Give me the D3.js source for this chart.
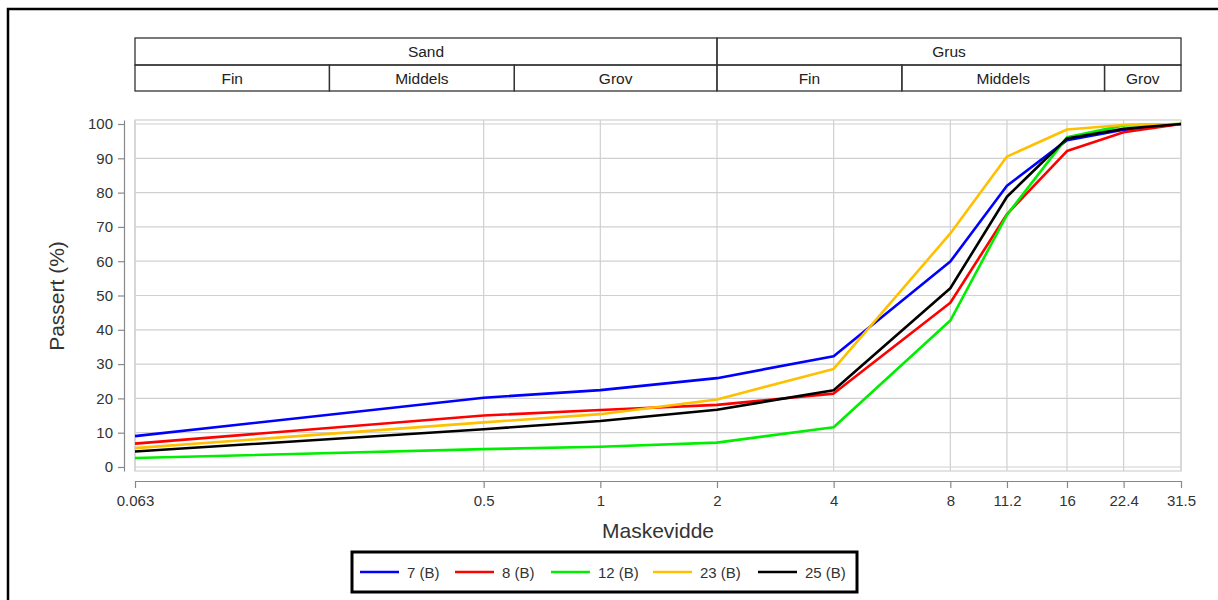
<!DOCTYPE html>
<html>
<head>
<meta charset="utf-8">
<script src="https://cdn.jsdelivr.net/npm/d3@7"></script>
<style>
  body { margin: 0; background: #fff; }
  svg { font-family: 'Liberation Sans', Arial, sans-serif; }
</style>
</head>
<body>
<script>
const width = 1218
const height = 600

// Sikter (mm)
const sikter = [0.063, 0.5, 1, 2, 4, 8, 11.2, 16, 22.4, 31.5]

// Passert (%) per prøve
const navn = ['7 (B)', '8 (B)', '12 (B)', '23 (B)', '25 (B)']
const p7  = [9.0, 20.2, 22.4, 25.9, 32.3, 59.9, 82.0, 95.3, 98.3, 100]
const p8  = [6.8, 15.0, 16.6, 18.1, 21.4, 47.9, 73.7, 92.1, 97.6, 100]
const p12 = [2.6, 5.2, 5.9, 7.1, 11.6, 42.7, 73.5, 96.1, 99.6, 100]
const p23 = [5.5, 13.0, 15.4, 19.7, 28.6, 68.1, 90.5, 98.4, 99.7, 100]
const p25 = [4.5, 11.0, 13.4, 16.7, 22.4, 52.1, 78.8, 95.8, 98.6, 100]
const farger = ['#0000ff', '#ff0000', '#00ee00', '#ffc000', '#000000']

// Kornfraksjoner (topptabell)
const hoved = [['Sand', 0.063, 2], ['Grus', 2, 31.5]]
const under = [['Fin', 0.063, 0.2], ['Middels', 0.2, 0.6], ['Grov', 0.6, 2],
               ['Fin', 2, 6], ['Middels', 6, 20], ['Grov', 20, 31.5]]

const serier = [p7, p8, p12, p23, p25].map((v, i) => ({
  navn: navn[i], farge: farger[i],
  punkter: sikter.map((s, j) => ({ s, p: v[j] }))
}))

const x = d3.scaleLog().domain([0.063, 31.5]).range([135, 1181])
const y = d3.scaleLinear().domain([-1.17, 101.17]).range([471, 120])

const svg = d3.select('body').append('svg').attr('width', width).attr('height', height)

// ytre ramme
svg.append('rect')
  .attr('x', 8).attr('y', 9).attr('width', 1300).attr('height', 700)
  .attr('fill', 'none').attr('stroke', '#000').attr('stroke-width', 2.5)

// topptabell
const tab = svg.append('g')
tab.selectAll('rect.h').data(hoved).join('rect')
  .attr('class', 'h')
  .attr('x', d => x(d[1])).attr('y', 38)
  .attr('width', d => x(d[2]) - x(d[1])).attr('height', 27)
  .attr('fill', 'none').attr('stroke', '#333').attr('stroke-width', 1.3)
tab.selectAll('text.h').data(hoved).join('text')
  .attr('class', 'h')
  .attr('x', d => (x(d[1]) + x(d[2])) / 2).attr('y', 57)
  .attr('text-anchor', 'middle').attr('font-size', 15.5).attr('fill', '#222')
  .text(d => d[0])
tab.selectAll('rect.u').data(under).join('rect')
  .attr('class', 'u')
  .attr('x', d => x(d[1])).attr('y', 65)
  .attr('width', d => x(d[2]) - x(d[1])).attr('height', 26)
  .attr('fill', 'none').attr('stroke', '#333').attr('stroke-width', 1.3)
tab.selectAll('text.u').data(under).join('text')
  .attr('class', 'u')
  .attr('x', d => (x(d[1]) + x(d[2])) / 2).attr('y', 83.5)
  .attr('text-anchor', 'middle').attr('font-size', 15.5).attr('fill', '#222')
  .text(d => d[0])

// rutenett
const grid = svg.append('g').attr('stroke', '#d0d0d0').attr('stroke-width', 1.2)
grid.selectAll('line.gy').data(d3.range(0, 101, 10)).join('line')
  .attr('x1', 135).attr('x2', 1181)
  .attr('y1', d => y(d)).attr('y2', d => y(d))
grid.selectAll('line.gx').data(sikter).join('line')
  .attr('y1', 120).attr('y2', 471)
  .attr('x1', d => x(d)).attr('x2', d => x(d))
svg.append('rect')
  .attr('x', 135).attr('y', 120).attr('width', 1181 - 135).attr('height', 471 - 120)
  .attr('fill', 'none').attr('stroke', '#d0d0d0').attr('stroke-width', 1.2)

// akser
const yAxis = svg.append('g')
  .attr('transform', 'translate(124,0)')
  .call(d3.axisLeft(y).tickValues(d3.range(0, 101, 10)).tickSize(6).tickSizeOuter(0).tickPadding(5))
const xAxis = svg.append('g')
  .attr('transform', 'translate(0,481)')
  .call(d3.axisBottom(x).tickValues(sikter).tickFormat(d => d).tickSize(7).tickSizeOuter(0).tickPadding(7))
;[yAxis, xAxis].forEach(a => {
  a.select('.domain').attr('stroke', '#888').attr('stroke-width', 1.2)
  a.selectAll('.tick line').attr('stroke', '#888').attr('stroke-width', 1.2)
  a.selectAll('.tick text').attr('font-size', 15).attr('fill', '#333')
    .attr('font-family', "'Liberation Sans', Arial, sans-serif")
})

svg.append('text')
  .attr('transform', 'translate(64,296) rotate(-90)')
  .attr('text-anchor', 'middle').attr('font-size', 21).attr('fill', '#333')
  .text('Passert (%)')
svg.append('text')
  .attr('x', 658).attr('y', 538)
  .attr('text-anchor', 'middle').attr('font-size', 21).attr('fill', '#333')
  .text('Maskevidde')

// kurver
const linje = d3.line().x(d => x(d.s)).y(d => y(d.p))
svg.append('g').selectAll('path').data(serier).join('path')
  .attr('d', d => linje(d.punkter))
  .attr('fill', 'none').attr('stroke', d => d.farge).attr('stroke-width', 2.6)
  .attr('stroke-linejoin', 'round')

// legende
svg.append('rect')
  .attr('x', 352).attr('y', 552).attr('width', 505).attr('height', 40)
  .attr('fill', '#fff').attr('stroke', '#000').attr('stroke-width', 3)
const legX = [360, 455, 551, 653, 758]
const leg = svg.append('g').selectAll('g').data(serier).join('g')
  .attr('transform', (d, i) => `translate(${legX[i]},572)`)
leg.append('line').attr('x1', 0).attr('x2', 39)
  .attr('stroke', d => d.farge).attr('stroke-width', 2.6)
leg.append('text').attr('x', 47).attr('y', 5.5)
  .attr('font-size', 15).attr('fill', '#333')
  .text(d => d.navn)
</script>
</body>
</html>
